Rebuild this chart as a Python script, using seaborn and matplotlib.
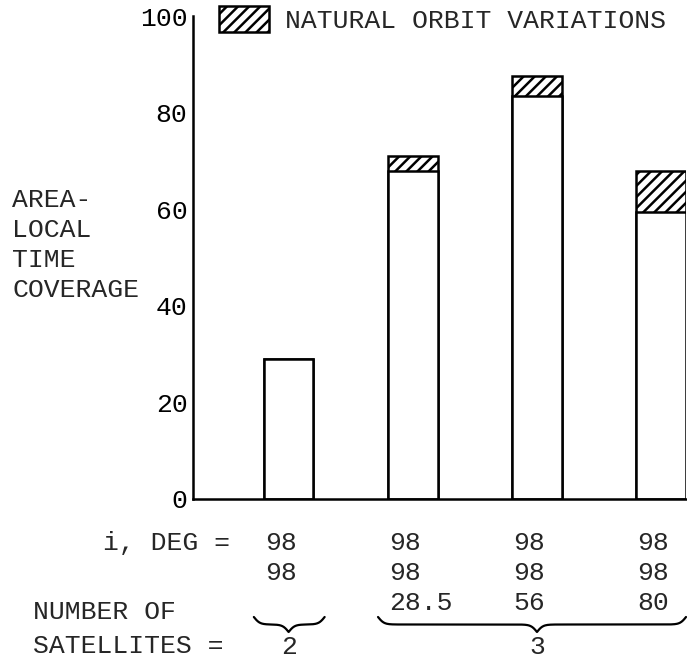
import numpy as np
import pandas as pd
import matplotlib
matplotlib.use("Agg")
import matplotlib.pyplot as plt
import matplotlib.transforms as mtransforms
from matplotlib.patches import Patch
import seaborn as sns

# Data
configs = ["98/98", "98/98/28.5", "98/98/56", "98/98/80"]
base_coverage = [29, 68, 83.5, 59.5]
total_coverage = [29, 71, 87.5, 68]
inclinations = [["98", "98", ""],
                ["98", "98", "28.5"],
                ["98", "98", "56"],
                ["98", "98", "80"]]
n_satellites = [2, 3, 3, 3]
y_ticks = [0, 20, 40, 60, 80, 100]

df = pd.DataFrame({"config": configs, "base": base_coverage, "total": total_coverage})

# Style
sns.set_style("white")
plt.rcParams["font.family"] = ["Liberation Mono", "DejaVu Sans Mono"]
plt.rcParams["hatch.linewidth"] = 1.8
plt.rcParams["hatch.color"] = "black"
FS = 19
W, H = 687, 659
XMIN, XMAX = -0.77, 3.2

fig = plt.figure(figsize=(W / 100, H / 100), dpi=100)
ax = fig.add_axes([193 / W, 1 - 499 / H, (686 - 193) / W, (499 - 16) / H])

sns.barplot(data=df, x="config", y="total", color="white", saturation=1,
            edgecolor="black", linewidth=1.8, hatch="///", width=0.4, ax=ax)
sns.barplot(data=df, x="config", y="base", color="white", saturation=1,
            edgecolor="black", linewidth=1.8, width=0.4, ax=ax)

ax.set_xlim(XMIN, XMAX)
ax.set_ylim(0, 100)
ax.set_yticks(y_ticks)
ax.set_yticklabels([str(t) for t in y_ticks], fontsize=FS)
ax.set_xticks([])
ax.set_xlabel("")
ax.set_ylabel("")
for s in ["top", "right"]:
    ax.spines[s].set_visible(False)
for s in ["left", "bottom"]:
    ax.spines[s].set_linewidth(1.8)
    ax.spines[s].set_color("black")
ax.tick_params(axis="y", direction="in", length=5, width=1.8, pad=4, colors="black")

# y label block
fig.text(12 / W, 1 - 245 / H, "AREA-\nLOCAL\nTIME\nCOVERAGE", ha="left", va="center",
         fontsize=FS, linespacing=1.32)

# inclination table under the bars
trans = mtransforms.blended_transform_factory(ax.transData, fig.transFigure)
row_y = [543, 573, 603]
fig.text(230 / W, 1 - row_y[0] / H, "i, DEG =", ha="right", va="center", fontsize=FS)
for i, col in enumerate(inclinations):
    for r, s in enumerate(col):
        ax.text(i - 0.19, 1 - row_y[r] / H, s, transform=trans, ha="left", va="center",
                fontsize=FS, clip_on=False)

fig.text(33 / W, 1 - 612 / H, "NUMBER OF", ha="left", va="center", fontsize=FS)
fig.text(33 / W, 1 - 646 / H, "SATELLITES =", ha="left", va="center", fontsize=FS)


def draw_brace(x0, xc, x1, top_px, depth_px):
    # curly brace opening upward, tip at xc
    px_per_unit = (686 - 193) / (XMAX - XMIN)
    t = np.linspace(0, 1, 200)
    xs, ys = [], []
    for a, b in [(x0, xc), (x1, xc)]:
        beta = max(abs(b - a) * px_per_unit / 3.0, 6)
        v = 1 / (1 + np.exp(-beta * t)) + 1 / (1 + np.exp(-beta * (t - 1)))
        v = (v - v[0]) / (v[-1] - v[0])
        xs.append(a + (b - a) * t)
        ys.append(1 - (top_px + v * depth_px) / H)
    x = np.concatenate([xs[0], xs[1][::-1]])
    y = np.concatenate([ys[0], ys[1][::-1]])
    ax.plot(x, y, color="black", lw=1.6, transform=trans, clip_on=False)


groups = {}
for i, n in enumerate(n_satellites):
    groups.setdefault(n, []).append(i)
for n, idx in groups.items():
    x0 = min(idx) - 0.28
    x1 = min(max(idx) + 0.29, XMAX)
    xc = float(np.mean(idx))
    draw_brace(x0, xc, x1, 617, 15)
    ax.text(xc, 1 - 647 / H, str(n), transform=trans, ha="center", va="center",
            fontsize=FS, clip_on=False)

handle = Patch(facecolor="white", edgecolor="black", hatch="///", lw=1.8)
fig.legend(handles=[handle], labels=["NATURAL ORBIT VARIATIONS"], loc="upper left",
           bbox_to_anchor=(219 / W, 1 - 6 / H), frameon=False, fontsize=FS,
           handlelength=1.9, handleheight=1.15, handletextpad=0.6,
           borderpad=0, borderaxespad=0)

fig.savefig("out.png", dpi=100)
